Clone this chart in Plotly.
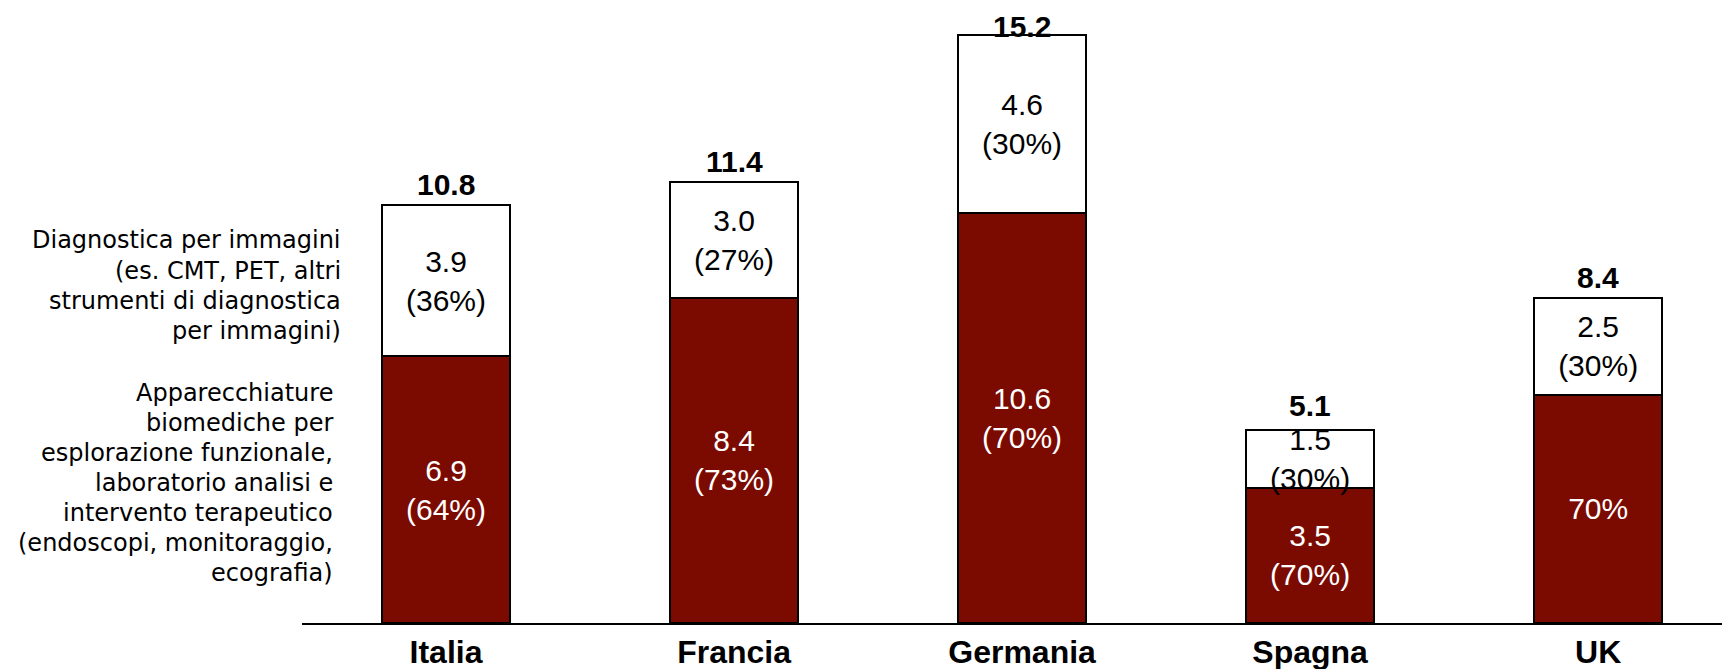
import plotly.graph_objects as go

countries = ["Italia", "Francia", "Germania", "Spagna", "UK"]
biomed_values = [6.9, 8.4, 10.6, 3.5, 5.9]
biomed_pct = [64, 73, 70, 70, 70]
biomed_show_value = [True, True, True, True, False]
imaging_values = [3.9, 3.0, 4.6, 1.5, 2.5]
imaging_pct = [36, 27, 30, 30, 30]
totals = [10.8, 11.4, 15.2, 5.1, 8.4]

legend_imaging_lines = ["Diagnostica per immagini", "(es. CMT, PET, altri",
                        "strumenti di diagnostica", "per immagini)"]
legend_biomed_lines = ["Apparecchiature", "biomediche per", "esplorazione funzionale,",
                       "laboratorio analisi e", "intervento terapeutico",
                       "(endoscopi, monitoraggio,", "ecografia)"]

DARK_RED = "#7B0A00"
W, H = 1722, 669
PLOT_LEFT = 302
AXIS_Y = 623
Y_MAX = 16.1
FONT = "Liberation Sans, Arial, sans-serif"

biomed_text = [
    (f"{v:.1f}<br>({p}%)" if s else f"{p}%")
    for v, p, s in zip(biomed_values, biomed_pct, biomed_show_value)
]
imaging_text = [f"{v:.1f}<br>({p}%)" for v, p in zip(imaging_values, imaging_pct)]

fig = go.Figure()
fig.add_trace(go.Bar(
    x=countries, y=biomed_values, text=biomed_text,
    marker=dict(color=DARK_RED, line=dict(color="black", width=2)),
    textposition="inside", insidetextanchor="middle",
    textfont=dict(family=FONT, size=30, color="white"),
    width=0.442, hoverinfo="skip",
))
fig.add_trace(go.Bar(
    x=countries, y=imaging_values, text=imaging_text,
    marker=dict(color="white", line=dict(color="black", width=2)),
    textposition="inside", insidetextanchor="middle",
    textfont=dict(family=FONT, size=30, color="black"),
    width=0.442, hoverinfo="skip",
))

for c, b, i, t in zip(countries, biomed_values, imaging_values, totals):
    y_top = max(t, b + i)
    bar_top_px = AXIS_Y * (1 - y_top / Y_MAX)
    shift = min(2, bar_top_px - 45)  # keep the label inside the page when the bar is tall
    fig.add_annotation(
        x=c, y=y_top, xref="x", yref="y", text=f"<b>{t:.1f}</b>", showarrow=False,
        yanchor="bottom", yshift=shift,
        font=dict(family=FONT, size=30, color="black"),
    )

legend_font = dict(family="DejaVu Sans, sans-serif", size=24, color="black")


def add_legend_block(lines, right_px, center_px, spacing=30):
    n = len(lines)
    for k, line in enumerate(lines):
        py = center_px + (k - (n - 1) / 2) * spacing
        fig.add_annotation(
            x=right_px / W, y=(AXIS_Y - py) / AXIS_Y, xref="paper", yref="paper",
            text=line, showarrow=False, xanchor="right", yanchor="middle",
            align="right", font=legend_font,
        )


add_legend_block(legend_imaging_lines, 343, 285.5)
add_legend_block(legend_biomed_lines, 335, 483)

fig.update_layout(
    barmode="stack",
    width=W, height=H,
    margin=dict(l=0, r=0, t=0, b=H - AXIS_Y),
    paper_bgcolor="white", plot_bgcolor="white",
    showlegend=False,
    uniformtext=dict(minsize=30, mode="show"),
    xaxis=dict(
        domain=[PLOT_LEFT / W, 1],
        range=[-0.5, 4.43],
        showline=True, linecolor="black", linewidth=2,
        showgrid=False, zeroline=False, ticks="",
        tickfont=dict(family=FONT, size=32, color="black"),
        tickvals=countries, ticktext=[f"<b>{c}</b>" for c in countries],
    ),
    yaxis=dict(range=[0, Y_MAX], visible=False, showgrid=False, zeroline=False),
)

fig.write_html("out.html")
